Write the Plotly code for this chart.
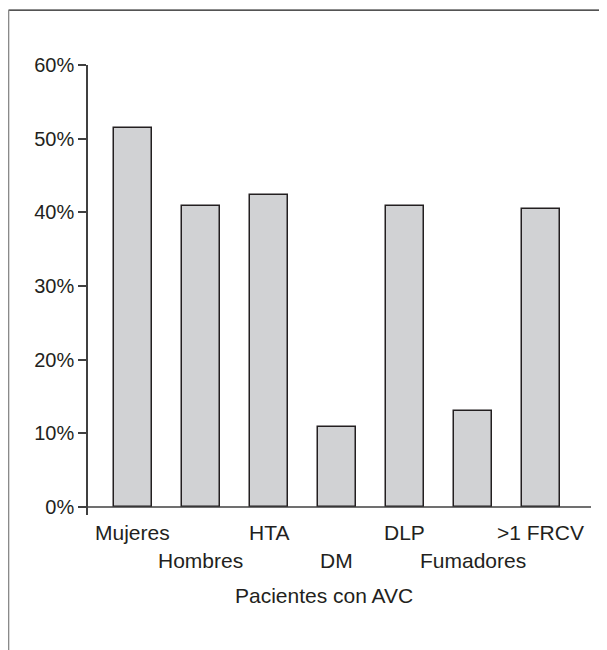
import plotly.graph_objects as go

categorias = ["Mujeres", "Hombres", "HTA", "DM", "DLP", "Fumadores", ">1 FRCV"]
porcentajes = [0.514, 0.409, 0.424, 0.108, 0.409, 0.130, 0.405]
ticks_y = [0, 0.1, 0.2, 0.3, 0.4, 0.5, 0.6]
etiquetas_y = ["0%", "10%", "20%", "30%", "40%", "50%", "60%"]
titulo_x = "Pacientes con AVC"

fig = go.Figure()
fig.add_trace(go.Bar(
    x=categorias, y=porcentajes, width=0.56,
    marker=dict(color="#d1d2d4", line=dict(color="#231f20", width=1.5)),
    hoverinfo="skip",
))

fuente = dict(family="Liberation Sans, Arial, sans-serif", size=21, color="#231f20")

# etiquetas de categoria alternando arriba/abajo
for i, c in enumerate(categorias):
    fig.add_annotation(x=c, y=0, xref="x", yref="y", text=c, showarrow=False,
                       yanchor="middle", yshift=-26 if i % 2 == 0 else -54, font=fuente)

fig.add_annotation(x=0.47, y=0, xref="paper", yref="y", text=titulo_x, showarrow=False,
                   yanchor="middle", yshift=-89, font=fuente)

# eje x a la altura de 0
fig.add_shape(type="line", xref="paper", yref="y", x0=0, x1=1, y0=0, y1=0,
              line=dict(color="#404040", width=1.5))
# marco exterior (arriba e izquierda)
fig.add_shape(type="line", xref="paper", yref="paper", x0=-0.158, x1=1.1, y0=1.122, y1=1.122,
              line=dict(color="#1a1a1a", width=1.3))
fig.add_shape(type="line", xref="paper", yref="paper", x0=-0.158, x1=-0.158, y0=1.122, y1=-0.35,
              line=dict(color="#8a8a8a", width=1.6))

fig.update_layout(
    width=599, height=642,
    margin=dict(l=80, r=16, t=57, b=135),
    plot_bgcolor="white", paper_bgcolor="white",
    showlegend=False,
    bargap=0,
)
fig.update_xaxes(type="category", categoryorder="array", categoryarray=categorias,
                 range=[-0.66, 6.74], showticklabels=False, showline=False,
                 showgrid=False, zeroline=False, ticks="")
fig.update_yaxes(range=[-0.0109, 0.6], tickvals=ticks_y, ticktext=etiquetas_y,
                 showline=True, linecolor="#404040", linewidth=1.5,
                 ticks="outside", ticklen=8, tickwidth=1.5, tickcolor="#404040",
                 showgrid=False, zeroline=False,
                 tickfont=dict(family="Liberation Sans, Arial, sans-serif", size=20, color="#231f20"))

fig.write_html("out.html")
